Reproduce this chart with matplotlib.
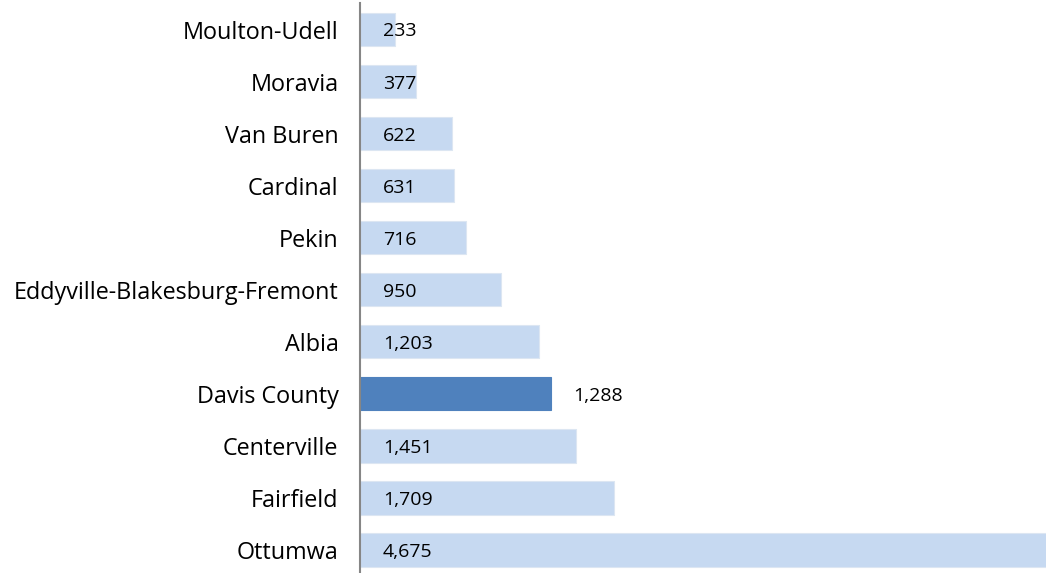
import matplotlib
matplotlib.use("Agg")
import matplotlib.pyplot as plt

categories = ["Moulton-Udell", "Moravia", "Van Buren", "Cardinal", "Pekin",
              "Eddyville-Blakesburg-Fremont", "Albia", "Davis County",
              "Centerville", "Fairfield", "Ottumwa"]
values = [233, 377, 622, 631, 716, 950, 1203, 1288, 1451, 1709, 4675]
highlight = "Davis County"

plt.rcParams['font.family'] = ['Open Sans', 'DejaVu Sans']

W, H = 1046, 573
fig = plt.figure(figsize=(W / 100, H / 100), dpi=100)
ax = fig.add_axes([360 / W, -3 / H, (W - 360) / W, 572.5 / H])

light, dark = "#C6D9F1", "#4F81BD"
ypos = list(range(len(categories)))
colors = [dark if c == highlight else light for c in categories]
edges = ["#4F81BD" if c == highlight else "#DCE6F2" for c in categories]
ax.barh(ypos, values, height=0.64, color=colors, edgecolor=edges, linewidth=0.8)

ax.set_xlim(0, 4616)
ax.set_ylim(len(categories) - 0.5, -0.5)
ax.set_yticks(ypos)
ax.set_yticklabels(categories, fontsize=16.8, color="#000000")
ax.tick_params(axis="y", length=0, pad=15.5)
ax.set_xticks([])
for s in ["top", "right", "bottom"]:
    ax.spines[s].set_visible(False)
ax.spines["left"].set_color("#868686")
ax.spines["left"].set_linewidth(1.5)

px = 4616 / (W - 360)
for y, v, c in zip(ypos, values, categories):
    if c == highlight:
        x = v + 22 * px
    else:
        x = 23 * px
    ax.annotate(f"{v:,}", xy=(x, y), xytext=(0, -5), textcoords="offset points",
                va="baseline", ha="left", fontsize=14, color="#000000")

fig.savefig("out.png", dpi=100)
